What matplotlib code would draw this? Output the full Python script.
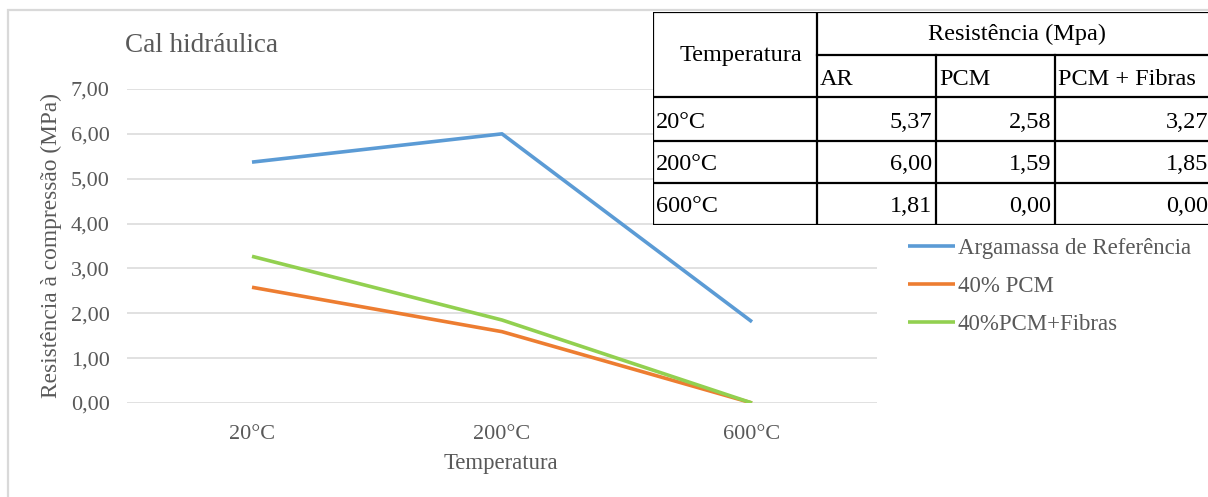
import matplotlib.pyplot as plt
from matplotlib.patches import Rectangle
from matplotlib.ticker import FuncFormatter

plt.rcParams['font.family'] = ['Liberation Serif', 'DejaVu Serif']

# ------------ data ------------
temperaturas = ['20°C', '200°C', '600°C']
ref_ar = [5.37, 6.00, 1.81]
pcm = [2.58, 1.59, 0.00]
pcm_fibras = [3.27, 1.85, 0.00]
nomes_series = ['Argamassa de Referência', '40% PCM', '40%PCM+Fibras']
cab_tabela = ['AR', 'PCM', 'PCM + Fibras']
y_ticks = [0, 1, 2, 3, 4, 5, 6, 7]

cinza_txt = '#595959'
cores = ['#5B9BD5', '#ED7D31', '#92D050']

W, H = 1208, 497
fig = plt.figure(figsize=(W / 100, H / 100), dpi=100)


def px(x0, y0, x1, y1):
    """pixel box (top-left origin) -> figure fraction rect"""
    return [x0 / W, 1 - y1 / H, (x1 - x0) / W, (y1 - y0) / H]


# chart border
fig.patches.append(Rectangle((8 / W, -0.1), 1.2, 1 - 10 / H + 0.1, transform=fig.transFigure,
                             fill=False, edgecolor='#D9D9D9', linewidth=1.6))

ax = fig.add_axes(px(127, 89, 877, 403))
x = range(len(temperaturas))
for serie, cor, nome in zip([ref_ar, pcm, pcm_fibras], cores, nomes_series):
    ax.plot(x, serie, color=cor, linewidth=2.6, label=nome, solid_capstyle='butt', zorder=3)

ax.set_xlim(-0.5, len(temperaturas) - 0.5)
ax.set_ylim(0, 7)
ax.set_yticks(y_ticks)
ax.yaxis.set_major_formatter(FuncFormatter(lambda v, p: f'{v:.2f}'.replace('.', ',')))
ax.set_xticks(list(x))
ax.set_xticklabels(temperaturas)
ax.tick_params(length=0, labelsize=16, labelcolor=cinza_txt)
ax.tick_params(axis='x', pad=15.5)
ax.tick_params(axis='y', pad=12.5)
ax.grid(axis='y', color='#D9D9D9', linewidth=1.1)
ax.set_axisbelow(True)
for s in ax.spines.values():
    s.set_visible(False)

fig.text(125 / W, 1 - 45 / H, 'Cal hidráulica', fontsize=19.5, color=cinza_txt, va='center', ha='left')
fig.text(51 / W, 1 - 245 / H, 'Resistência à compressão (MPa)', fontsize=16.8, color=cinza_txt,
         rotation=90, va='center', ha='center')
fig.text(501 / W, 1 - 463 / H, 'Temperatura', fontsize=16.4, color=cinza_txt, va='center', ha='center')

leg = ax.legend(loc='upper left', bbox_to_anchor=(908 / W, 1 - 238 / H), bbox_transform=fig.transFigure,
                frameon=False, fontsize=16.5, handlelength=2.05, handletextpad=0.13, labelspacing=0.75,
                borderpad=0, borderaxespad=0)
for t in leg.get_texts():
    t.set_color(cinza_txt)

# ------------ table ------------
cols = [653, 817, 936, 1055, 1212]
rows = [12, 55, 97, 141, 183, 225]
tab = fig.add_axes(px(cols[0], rows[0], cols[-1], rows[-1]))
tab.set_xlim(cols[0], cols[-1])
tab.set_ylim(rows[-1], rows[0])
tab.axis('off')
tab.add_patch(Rectangle((cols[0], rows[0]), cols[-1] - cols[0], rows[-1] - rows[0],
                        facecolor='white', edgecolor='none', zorder=0))
lw = 1.6
for yy in rows:
    x0 = cols[1] if yy == rows[1] else cols[0]
    tab.plot([x0, cols[-1]], [yy, yy], color='black', linewidth=lw, solid_capstyle='projecting')
for i, xx in enumerate(cols):
    y0 = rows[1] if i in (2, 3) else rows[0]
    tab.plot([xx, xx], [y0, rows[-1]], color='black', linewidth=lw, solid_capstyle='projecting')

fs = 17.5
tab.text((cols[0] + cols[1]) / 2 + 6, (rows[0] + rows[2]) / 2 + 1, 'Temperatura', fontsize=fs,
         ha='center', va='center')
tab.text((cols[1] + cols[-1]) / 2 + 2, (rows[0] + rows[1]) / 2 + 1, 'Resistência (Mpa)', fontsize=fs,
         ha='center', va='center')
for j, h in enumerate(cab_tabela):
    tab.text(cols[j + 1] + 3, (rows[1] + rows[2]) / 2 + 4, h, fontsize=fs, ha='left', va='center')
for i, t in enumerate(temperaturas):
    yc = (rows[i + 2] + rows[i + 3]) / 2 + 3
    tab.text(cols[0] + 3, yc, t, fontsize=fs, ha='left', va='center')
    for j, serie in enumerate([ref_ar, pcm, pcm_fibras]):
        tab.text(cols[j + 2] - 4, yc, f'{serie[i]:.2f}'.replace('.', ','), fontsize=fs,
                 ha='right', va='center')

fig.savefig('out.png', dpi=100)
